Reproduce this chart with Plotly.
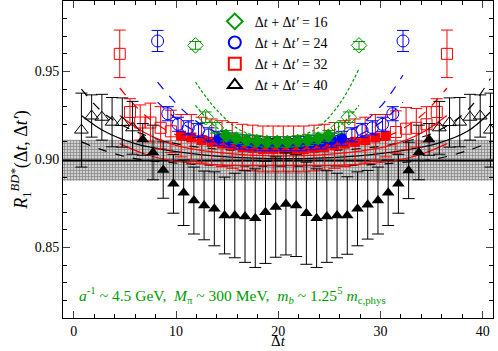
import plotly.graph_objects as go

# ---- data ----
# dt + dt' = 40 (black triangles)
x40_open = [0.75, 1.75, 2.75, 3.75, 4.75, 5.75, 35.75, 36.75, 37.75, 38.75, 39.75, 40.75]
y40_open = [0.9167, 0.9247, 0.9240, 0.9212, 0.9210, 0.9180, 0.9180, 0.9210, 0.9212, 0.9240, 0.9247, 0.9167]
e40_open = [0.021, 0.012, 0.013, 0.014, 0.014, 0.015, 0.015, 0.014, 0.014, 0.013, 0.012, 0.021]

x40 = [6.75, 7.75, 8.75, 9.75, 10.75, 11.75, 12.75, 13.75, 14.75, 15.75, 16.75, 17.75, 18.75, 19.75,
       20.75, 21.75, 22.75, 23.75, 24.75, 25.75, 26.75, 27.75, 28.75, 29.75, 30.75, 31.75, 32.75, 33.75, 34.75]
y40 = [0.9114, 0.9040, 0.8940, 0.8862, 0.8811, 0.8767, 0.8739, 0.8720, 0.8682, 0.8682, 0.8676, 0.8667, 0.8700, 0.8730,
       0.8748, 0.8739, 0.8695, 0.8667, 0.8676, 0.8682, 0.8682, 0.8720, 0.8743, 0.8767, 0.8811, 0.8862, 0.8938, 0.9040, 0.9114]
e40 = [0.009, 0.0155, 0.016, 0.0167, 0.0186, 0.019, 0.0195, 0.021, 0.0218, 0.024, 0.026, 0.028, 0.029, 0.0285,
       0.029, 0.029, 0.029, 0.028, 0.026, 0.024, 0.022, 0.021, 0.0195, 0.019, 0.0186, 0.0167, 0.016, 0.0155, 0.009]

# dt + dt' = 32 (red squares)
x32 = [4.5, 5.5, 6.5, 7.5, 8.5, 9.5, 10.5, 11.5, 12.5, 13.5, 14.5, 15.5, 16.5, 17.5, 18.5, 19.5, 20.5,
       21.5, 22.5, 23.5, 24.5, 25.5, 26.5, 27.5, 28.5, 29.5, 30.5, 31.5, 32.5, 33.5, 34.5, 35.5, 36.5]
y32 = [0.9600, 0.9270, 0.9210, 0.9210, 0.9180, 0.9160, 0.9135, 0.9125, 0.9110, 0.9100, 0.9090, 0.9080, 0.9070,
       0.9065, 0.9060, 0.9060, 0.9060, 0.9060, 0.9060, 0.9065, 0.9070, 0.9080, 0.9090, 0.9100, 0.9110, 0.9125,
       0.9135, 0.9156, 0.9175, 0.9180, 0.9200, 0.9270, 0.9600]
e32 = [0.0135, 0.0075, 0.010, 0.011, 0.012, 0.012, 0.012, 0.013, 0.013, 0.013, 0.013, 0.013, 0.013, 0.013, 0.013,
       0.013, 0.013, 0.013, 0.013, 0.013, 0.013, 0.013, 0.013, 0.013, 0.013, 0.013, 0.012, 0.012, 0.012, 0.011,
       0.010, 0.0075, 0.0135]
fill32 = [False] * 6 + [True] * 21 + [False] * 6

# dt + dt' = 24 (blue circles)
x24 = [8.2, 9.2, 10.2, 11.2, 12.2, 13.2, 14.2, 15.2, 16.2, 17.2, 18.2, 19.2, 20.2,
       21.2, 22.2, 23.2, 24.2, 25.2, 26.2, 27.2, 28.2, 29.2, 30.2, 31.2, 32.2]
y24 = [0.9673, 0.9260, 0.9200, 0.9180, 0.9165, 0.9140, 0.9120, 0.9110, 0.9100, 0.9095, 0.9090, 0.9090, 0.9090,
       0.9090, 0.9090, 0.9095, 0.9100, 0.9110, 0.9120, 0.9140, 0.9165, 0.9180, 0.9200, 0.9260, 0.9673]
e24 = [0.006, 0.004, 0.004, 0.004, 0.004, 0.004, 0.004, 0.004, 0.004, 0.004, 0.004, 0.004, 0.004,
       0.004, 0.004, 0.004, 0.004, 0.004, 0.004, 0.004, 0.004, 0.004, 0.004, 0.004, 0.006]
fill24 = [False] * 6 + [True] * 13 + [False] * 6

# dt + dt' = 16 (green diamonds)
x16 = [11.9, 12.9, 13.9, 14.9, 15.9, 16.9, 17.9, 18.9, 19.9, 20.9, 21.9, 22.9, 23.9, 24.9, 25.9, 26.9, 27.9]
y16 = [0.9648, 0.9240, 0.9180, 0.9135, 0.9120, 0.9110, 0.9105, 0.9100, 0.9100, 0.9100, 0.9105, 0.9110,
       0.9120, 0.9135, 0.9180, 0.9240, 0.9648]
e16 = [0.0022, 0.003, 0.003, 0.003, 0.003, 0.003, 0.003, 0.003, 0.003, 0.003, 0.003, 0.003, 0.003, 0.003,
       0.003, 0.003, 0.0022]
fill16 = [False] * 3 + [True] * 11 + [False] * 3

# fit curves (central solid, band dashed)
fx40 = [0.75, 3, 6, 10, 15, 20.75, 26.5, 31.5, 35.5, 38.5, 40.75]
fc40 = [0.925, 0.916, 0.909, 0.9045, 0.9015, 0.9005, 0.9015, 0.9045, 0.909, 0.916, 0.927]
fu40 = [0.940, 0.926, 0.916, 0.909, 0.9055, 0.9045, 0.9055, 0.909, 0.916, 0.928, 0.946]
fl40 = [0.910, 0.905, 0.9005, 0.898, 0.8965, 0.8962, 0.8965, 0.898, 0.9005, 0.905, 0.910]

fx32 = [4.5, 7, 10, 14, 20.5, 27, 31, 34, 36.5]
fc32 = [0.925, 0.915, 0.908, 0.904, 0.902, 0.904, 0.908, 0.915, 0.925]
fu32 = [0.9406, 0.925, 0.914, 0.909, 0.907, 0.909, 0.914, 0.925, 0.9406]
fl32 = [0.909, 0.903, 0.899, 0.897, 0.8965, 0.897, 0.899, 0.903, 0.909]

fx24 = [8.2, 10.5, 13, 16.5, 20.2, 24, 27.5, 30, 32.2]
fc24 = [0.9326, 0.921, 0.913, 0.908, 0.9065, 0.908, 0.913, 0.921, 0.9326]
fu24 = [0.944, 0.929, 0.918, 0.911, 0.9095, 0.911, 0.918, 0.930, 0.948]

fx16 = [11.9, 14, 16.5, 19.9, 23.3, 25.8, 27.9]
fc16 = [0.9307, 0.918, 0.910, 0.9075, 0.910, 0.918, 0.9307]
fu16 = [0.944, 0.928, 0.916, 0.9125, 0.916, 0.930, 0.9515]

band_lo, band_hi, band_c = 0.888, 0.9112, 0.8995
ref_y, ref_x = 0.9115, [10.5, 31.0]

GREEN = "#009a00"
SERIF = "Liberation Serif"

fig = go.Figure()

# fit result band
fig.add_trace(go.Scatter(x=[-1.05, 41, 41, -1.05, -1.05], y=[band_lo, band_lo, band_hi, band_hi, band_lo],
                         fill="toself", mode="none", showlegend=False, hoverinfo="skip",
                         fillpattern=dict(shape="+", fgcolor="#333", bgcolor="#d0d0d0", size=3, solidity=0.4)))
fig.add_trace(go.Scatter(x=[-1.05, 41], y=[band_c, band_c], mode="lines", line=dict(color="black", width=2),
                         showlegend=False))
fig.add_trace(go.Scatter(x=ref_x, y=[ref_y, ref_y], mode="lines", line=dict(color="black", width=2.5, dash="dash"),
                         showlegend=False))


def curves(fx, ys, color, dashes):
    for y, d in zip(ys, dashes):
        fig.add_trace(go.Scatter(x=fx, y=y, mode="lines", line=dict(color=color, width=1.2, dash=d, shape="spline"),
                                 showlegend=False, hoverinfo="skip"))


curves(fx40, [fc40, fu40, fl40], "black", ["solid", "dash", "dash"])
curves(fx32, [fc32, fu32, fl32], "red", ["solid", "dash", "solid"])
curves(fx24, [fc24, fu24], "blue", ["dash", "dash"])
curves(fx16, [fc16, fu16], GREEN, ["3px,2px", "3px,2px"])


def points(x, y, e, filled, color, sym, size):
    xo = [a for a, f in zip(x, filled) if not f]
    yo = [a for a, f in zip(y, filled) if not f]
    eo = [a for a, f in zip(e, filled) if not f]
    xf = [a for a, f in zip(x, filled) if f]
    yf = [a for a, f in zip(y, filled) if f]
    ef = [a for a, f in zip(e, filled) if f]
    err = dict(type="data", thickness=1, width=6, color=color)
    fig.add_trace(go.Scatter(x=xo, y=yo, mode="markers", showlegend=False,
                             error_y=dict(array=eo, **err),
                             marker=dict(symbol=sym + "-open", size=size, color=color, line=dict(width=1))))
    if xf:
        fig.add_trace(go.Scatter(x=xf, y=yf, mode="markers", showlegend=False,
                                 error_y=dict(array=ef, **err),
                                 marker=dict(symbol=sym, size=size - 1, color=color)))


points(x32, y32, e32, fill32, "red", "square", 11)
points(x24, y24, e24, fill24, "blue", "circle", 12)
points(x16, y16, e16, fill16, GREEN, "diamond", 12)
points(x40_open + x40, y40_open + y40, e40_open + e40, [False] * 12 + [True] * 29, "black", "triangle-up", 12)

# legend entries
for name, color, sym in [("16", GREEN, "diamond-open"), ("24", "blue", "circle-open"),
                         ("32", "red", "square-open"), ("40", "black", "triangle-up-open")]:
    fig.add_trace(go.Scatter(x=[None], y=[None], mode="markers", name="Δ<i>t</i> + Δ<i>t′</i> = " + name,
                             marker=dict(symbol=sym, size=12, color=color, line=dict(width=1))))

fig.add_annotation(x=0.032, y=0.03, xref="paper", yref="paper", xanchor="left", yanchor="bottom", showarrow=False,
                   text="<i>a</i><sup>-1</sup> ~ 4.5 GeV,  <i>M</i><sub>π</sub> ~ 300 MeV,  "
                        "<i>m<sub>b</sub></i> ~ 1.25<sup>5</sup> <i>m</i><sub>c,phys</sub>",
                   font=dict(family=SERIF, size=15.5, color=GREEN))
# x-axis title
fig.add_annotation(x=0.5, y=-0.104, xref="paper", yref="paper", xanchor="center", yanchor="bottom",
                   showarrow=False, text="Δ<i>t</i>", font=dict(family=SERIF, size=15, color="black"))

axis = dict(showline=True, linecolor="black", linewidth=1, mirror="allticks", ticks="inside", showgrid=False,
            zeroline=False, automargin=False, tickfont=dict(family=SERIF, size=14, color="black"))
fig.update_xaxes(range=[-1.05, 41], tickvals=[0, 10, 20, 30, 40], ticklen=7,
                 minor=dict(dtick=2, ticks="inside", ticklen=4, tickcolor="black"), **axis)
fig.update_yaxes(range=[0.81, 0.99], tickvals=[0.85, 0.90, 0.95], tickformat=".2f", ticklen=7,
                 minor=dict(dtick=0.01, ticks="inside", ticklen=4, tickcolor="black"),
                 title=dict(text="<i>R</i><sub>1</sub><sup><i>BD*</i></sup>(Δ<i>t</i>, Δ<i>t′</i>)",
                            font=dict(family=SERIF, size=18, color="black"), standoff=2), **axis)

fig.update_layout(width=498, height=351, margin=dict(l=63, r=5, t=1, b=33),
                  paper_bgcolor="white", plot_bgcolor="white",
                  legend=dict(x=0.353, y=0.985, xanchor="left", yanchor="top", bgcolor="rgba(0,0,0,0)",
                              font=dict(family=SERIF, size=14, color="black"), tracegroupgap=0,
                              itemsizing="constant"))

fig.write_html("out.html", config={"displayModeBar": False},
               post_script="document.body.style.margin='0';")
